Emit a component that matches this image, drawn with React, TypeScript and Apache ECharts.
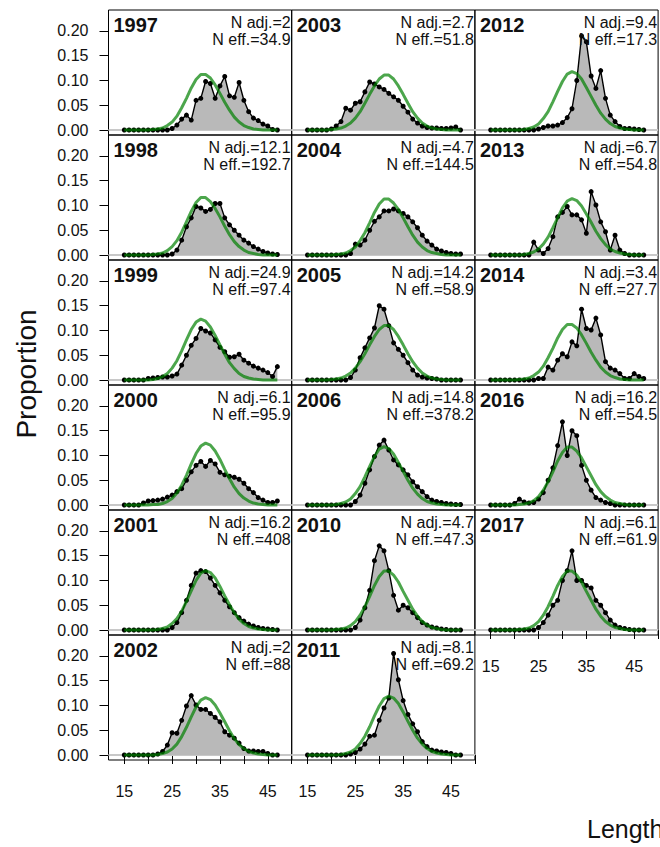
import React, { useEffect, useRef } from "react";
import * as echarts from "echarts";

// ---------- data ----------
const lengths = [15, 16, 17, 18, 19, 20, 21, 22, 23, 24, 25, 26, 27, 28, 29, 30, 31, 32, 33, 34, 35, 36, 37, 38, 39, 40, 41, 42, 43, 44, 45, 46, 47];

const obs1997 = [0, 0, 0, 0, 0, 0, 0, 0, 0, 0, 0.003, 0.010, 0.022, 0.030, 0.020, 0.060, 0.064, 0.098, 0.094, 0.064, 0.089, 0.108, 0.069, 0.066, 0.096, 0.060, 0.037, 0.024, 0.019, 0.012, 0.008, 0.001, 0];
const exp1997 = [0, 0, 0, 0, 0, 0, 0.001, 0.002, 0.004, 0.009, 0.016, 0.028, 0.045, 0.064, 0.085, 0.102, 0.112, 0.112, 0.105, 0.091, 0.074, 0.056, 0.040, 0.026, 0.016, 0.009, 0.005, 0.002, 0.001, 0, 0, 0, 0];

const obs1998 = [0, 0, 0, 0, 0, 0, 0, 0, 0, 0, 0.002, 0.010, 0.030, 0.057, 0.075, 0.098, 0.095, 0.088, 0.092, 0.104, 0.104, 0.075, 0.061, 0.050, 0.040, 0.030, 0.024, 0.017, 0.012, 0.007, 0.004, 0.002, 0.001];
const exp1998 = [0, 0, 0, 0, 0, 0, 0.001, 0.002, 0.004, 0.009, 0.017, 0.029, 0.046, 0.067, 0.088, 0.106, 0.116, 0.116, 0.108, 0.094, 0.077, 0.058, 0.041, 0.027, 0.017, 0.010, 0.005, 0.003, 0.001, 0, 0, 0, 0];

const obs1999 = [0, 0, 0, 0, 0, 0.003, 0.004, 0.005, 0.006, 0.006, 0.008, 0.012, 0.030, 0.050, 0.070, 0.084, 0.104, 0.099, 0.095, 0.081, 0.066, 0.057, 0.046, 0.047, 0.052, 0.040, 0.034, 0.028, 0.024, 0.020, 0.015, 0.007, 0.027];
const exp1999 = [0, 0, 0, 0, 0, 0, 0.001, 0.003, 0.007, 0.013, 0.024, 0.039, 0.059, 0.081, 0.102, 0.117, 0.123, 0.119, 0.107, 0.090, 0.071, 0.052, 0.035, 0.023, 0.013, 0.007, 0.004, 0.002, 0.001, 0, 0, 0, 0];

const obs2000 = [0, 0, 0, 0, 0.004, 0.008, 0.009, 0.010, 0.012, 0.016, 0.020, 0.027, 0.033, 0.050, 0.067, 0.080, 0.088, 0.078, 0.090, 0.083, 0.066, 0.061, 0.058, 0.056, 0.052, 0.044, 0.033, 0.025, 0.015, 0.010, 0.005, 0.005, 0.008];
const exp2000 = [0, 0, 0, 0, 0, 0, 0.001, 0.001, 0.003, 0.007, 0.013, 0.024, 0.040, 0.060, 0.083, 0.104, 0.119, 0.125, 0.121, 0.109, 0.092, 0.072, 0.053, 0.036, 0.023, 0.014, 0.008, 0.004, 0.002, 0.001, 0, 0, 0];

const obs2001 = [0, 0, 0, 0, 0, 0, 0, 0, 0, 0, 0.005, 0.015, 0.035, 0.060, 0.090, 0.115, 0.120, 0.118, 0.105, 0.090, 0.075, 0.060, 0.047, 0.035, 0.025, 0.018, 0.012, 0.008, 0.005, 0.003, 0.002, 0.001, 0];
const exp2001 = [0, 0, 0, 0, 0, 0, 0, 0.001, 0.003, 0.006, 0.013, 0.023, 0.038, 0.058, 0.079, 0.100, 0.115, 0.120, 0.116, 0.105, 0.088, 0.069, 0.051, 0.035, 0.022, 0.013, 0.007, 0.004, 0.002, 0.001, 0, 0, 0];

const obs2002 = [0, 0, 0, 0, 0, 0, 0, 0.002, 0.007, 0.020, 0.045, 0.044, 0.070, 0.099, 0.120, 0.101, 0.092, 0.092, 0.084, 0.076, 0.067, 0.047, 0.040, 0.034, 0.024, 0.013, 0.008, 0.008, 0.007, 0.007, 0.003, 0, 0];
const exp2002 = [0, 0, 0, 0, 0, 0, 0, 0.001, 0.003, 0.006, 0.012, 0.022, 0.037, 0.056, 0.077, 0.097, 0.111, 0.116, 0.112, 0.101, 0.085, 0.067, 0.049, 0.033, 0.021, 0.013, 0.007, 0.004, 0.002, 0.001, 0, 0, 0];

const obs2003 = [0, 0, 0, 0, 0, 0.002, 0.008, 0.017, 0.044, 0.040, 0.054, 0.057, 0.077, 0.097, 0.093, 0.087, 0.082, 0.074, 0.067, 0.060, 0.048, 0.036, 0.022, 0.014, 0.008, 0.005, 0.004, 0.004, 0.003, 0.003, 0.004, 0.006, 0];
const exp2003 = [0, 0, 0, 0, 0, 0.001, 0.002, 0.004, 0.008, 0.014, 0.024, 0.037, 0.054, 0.072, 0.089, 0.103, 0.111, 0.111, 0.103, 0.089, 0.072, 0.054, 0.037, 0.024, 0.014, 0.008, 0.004, 0.002, 0.001, 0, 0, 0, 0];

const obs2004 = [0, 0, 0, 0, 0, 0, 0, 0, 0, 0.003, 0.022, 0.020, 0.030, 0.050, 0.068, 0.077, 0.089, 0.089, 0.093, 0.089, 0.084, 0.077, 0.067, 0.055, 0.040, 0.028, 0.020, 0.012, 0.008, 0.005, 0.003, 0.002, 0.002];
const exp2004 = [0, 0, 0, 0, 0, 0, 0.001, 0.002, 0.004, 0.009, 0.016, 0.029, 0.045, 0.065, 0.086, 0.103, 0.113, 0.113, 0.105, 0.092, 0.075, 0.057, 0.040, 0.026, 0.016, 0.009, 0.005, 0.003, 0.001, 0, 0, 0, 0];

const obs2005 = [0, 0, 0, 0, 0, 0, 0, 0, 0, 0.005, 0.020, 0.045, 0.065, 0.085, 0.105, 0.150, 0.143, 0.110, 0.075, 0.062, 0.050, 0.035, 0.020, 0.010, 0.006, 0.004, 0.003, 0.002, 0, 0, 0, 0, 0];
const exp2005 = [0, 0, 0, 0, 0, 0.001, 0.002, 0.004, 0.008, 0.014, 0.024, 0.037, 0.053, 0.071, 0.088, 0.102, 0.110, 0.110, 0.102, 0.088, 0.071, 0.053, 0.037, 0.024, 0.014, 0.008, 0.004, 0.002, 0.001, 0, 0, 0, 0];

const obs2006 = [0, 0, 0, 0, 0, 0, 0, 0, 0, 0, 0.007, 0.020, 0.044, 0.071, 0.098, 0.121, 0.131, 0.111, 0.091, 0.081, 0.071, 0.061, 0.047, 0.037, 0.027, 0.017, 0.010, 0.007, 0.005, 0.003, 0.002, 0.001, 0.001];
const exp2006 = [0, 0, 0, 0, 0, 0, 0.001, 0.003, 0.006, 0.012, 0.023, 0.037, 0.057, 0.078, 0.098, 0.113, 0.118, 0.114, 0.103, 0.086, 0.068, 0.050, 0.034, 0.022, 0.013, 0.007, 0.004, 0.002, 0.001, 0, 0, 0, 0];

const obs2010 = [0, 0, 0, 0, 0, 0, 0, 0, 0, 0, 0.005, 0.020, 0.045, 0.080, 0.140, 0.170, 0.160, 0.120, 0.070, 0.040, 0.050, 0.045, 0.035, 0.025, 0.015, 0.010, 0.006, 0.004, 0.002, 0.001, 0, 0, 0];
const exp2010 = [0, 0, 0, 0, 0, 0, 0.001, 0.002, 0.004, 0.009, 0.017, 0.030, 0.047, 0.068, 0.090, 0.108, 0.119, 0.119, 0.111, 0.097, 0.078, 0.060, 0.042, 0.028, 0.017, 0.010, 0.005, 0.003, 0.001, 0, 0, 0, 0];

const obs2011 = [0, 0, 0, 0, 0, 0, 0, 0, 0, 0.002, 0.005, 0.012, 0.022, 0.038, 0.040, 0.070, 0.095, 0.115, 0.205, 0.152, 0.110, 0.082, 0.063, 0.047, 0.027, 0.017, 0.010, 0.008, 0.006, 0.005, 0.003, 0, 0];
const exp2011 = [0, 0, 0, 0, 0, 0, 0, 0.001, 0.003, 0.006, 0.012, 0.023, 0.038, 0.057, 0.079, 0.099, 0.114, 0.119, 0.115, 0.104, 0.087, 0.068, 0.050, 0.034, 0.022, 0.013, 0.007, 0.004, 0.002, 0.001, 0, 0, 0];

const obs2012 = [0, 0, 0, 0, 0, 0, 0, 0, 0, 0, 0.002, 0.005, 0.008, 0.008, 0.010, 0.015, 0.025, 0.043, 0.100, 0.190, 0.178, 0.109, 0.084, 0.120, 0.064, 0.030, 0.017, 0.007, 0.003, 0.003, 0.002, 0.001, 0];
const exp2012 = [0, 0, 0, 0, 0, 0, 0, 0.001, 0.003, 0.006, 0.012, 0.023, 0.037, 0.057, 0.078, 0.098, 0.113, 0.118, 0.114, 0.103, 0.086, 0.068, 0.050, 0.034, 0.022, 0.013, 0.007, 0.004, 0.002, 0.001, 0, 0, 0];

const obs2013 = [0, 0, 0, 0, 0, 0, 0, 0, 0, 0.026, 0.010, 0.003, 0.013, 0.037, 0.077, 0.086, 0.098, 0.081, 0.081, 0.071, 0.044, 0.128, 0.101, 0.067, 0.047, 0.010, 0.040, 0.010, 0.003, 0, 0, 0, 0];
const exp2013 = [0, 0, 0, 0, 0, 0, 0, 0.001, 0.003, 0.006, 0.012, 0.022, 0.036, 0.055, 0.075, 0.095, 0.109, 0.114, 0.110, 0.099, 0.083, 0.066, 0.048, 0.033, 0.021, 0.012, 0.007, 0.004, 0.002, 0.001, 0, 0, 0];

const obs2014 = [0, 0, 0, 0, 0, 0, 0, 0, 0, 0, 0.003, 0.003, 0.026, 0.020, 0.040, 0.053, 0.047, 0.077, 0.069, 0.143, 0.104, 0.101, 0.125, 0.091, 0.037, 0.024, 0.020, 0.013, 0.003, 0.003, 0.013, 0.007, 0.003];
const exp2014 = [0, 0, 0, 0, 0, 0, 0.001, 0.002, 0.004, 0.009, 0.016, 0.028, 0.045, 0.064, 0.085, 0.102, 0.112, 0.112, 0.105, 0.091, 0.074, 0.056, 0.040, 0.026, 0.016, 0.009, 0.005, 0.002, 0.001, 0, 0, 0, 0];

const obs2016 = [0, 0, 0, 0, 0, 0.003, 0.012, 0.006, 0.004, 0.005, 0.012, 0.025, 0.050, 0.075, 0.120, 0.168, 0.100, 0.150, 0.140, 0.080, 0.050, 0.030, 0.015, 0.010, 0.005, 0.003, 0, 0, 0, 0, 0, 0, 0];
const exp2016 = [0, 0, 0, 0, 0, 0, 0.001, 0.002, 0.004, 0.009, 0.017, 0.030, 0.047, 0.067, 0.089, 0.106, 0.117, 0.117, 0.109, 0.095, 0.077, 0.059, 0.041, 0.027, 0.017, 0.010, 0.005, 0.003, 0.001, 0, 0, 0, 0];

const obs2017 = [0, 0, 0, 0, 0, 0, 0, 0, 0, 0, 0.005, 0.015, 0.030, 0.050, 0.060, 0.100, 0.120, 0.160, 0.100, 0.100, 0.090, 0.085, 0.060, 0.050, 0.035, 0.020, 0.010, 0.005, 0.003, 0.001, 0, 0, 0];
const exp2017 = [0, 0, 0, 0, 0, 0, 0.001, 0.002, 0.004, 0.009, 0.017, 0.030, 0.047, 0.068, 0.090, 0.108, 0.119, 0.119, 0.111, 0.097, 0.078, 0.060, 0.042, 0.028, 0.017, 0.010, 0.005, 0.003, 0.001, 0, 0, 0, 0];

// panel order: column by column
const years = ["1997", "1998", "1999", "2000", "2001", "2002", "2003", "2004", "2005", "2006", "2010", "2011", "2012", "2013", "2014", "2016", "2017"];
const nAdj = ["2", "12.1", "24.9", "6.1", "16.2", "2", "2.7", "4.7", "14.2", "14.8", "4.7", "8.1", "9.4", "6.7", "3.4", "16.2", "6.1"];
const nEff = ["34.9", "192.7", "97.4", "95.9", "408", "88", "51.8", "144.5", "58.9", "378.2", "47.3", "69.2", "17.3", "54.8", "27.7", "54.5", "61.9"];
const observed = [obs1997, obs1998, obs1999, obs2000, obs2001, obs2002, obs2003, obs2004, obs2005, obs2006, obs2010, obs2011, obs2012, obs2013, obs2014, obs2016, obs2017];
const expected = [exp1997, exp1998, exp1999, exp2000, exp2001, exp2002, exp2003, exp2004, exp2005, exp2006, exp2010, exp2011, exp2012, exp2013, exp2014, exp2016, exp2017];

const yTicks = [0, 0.05, 0.1, 0.15, 0.2];
const xTicks = [15, 20, 25, 30, 35, 40, 45, 50];
const xLabels = [15, 25, 35, 45];
const panelsPerColumn = [6, 6, 5];

// ---------- layout ----------
const FONT = '"Liberation Sans", Arial, Helvetica, sans-serif';
const COL_LEFT = [108.5, 291.7, 474.9];
const PANEL_W = 183.2;
const PANEL_H = 125;
const TOP0 = 10;
const X_MIN = 11.7;
const X_MAX = 50;
const Y_MIN = -0.0101;
const Y_MAX = 0.2424;

export default function App() {
  const ref = useRef<HTMLDivElement>(null);

  useEffect(() => {
    if (!ref.current) return;
    const chart = echarts.init(ref.current, null, { renderer: "svg" });

    const grid: any[] = [];
    const xAxis: any[] = [];
    const yAxis: any[] = [];
    const series: any[] = [];
    const graphic: any[] = [];

    let idx = 0;
    panelsPerColumn.forEach((count, col) => {
      for (let row = 0; row < count; row++) {
        const i = idx++;
        const left = COL_LEFT[col];
        const top = TOP0 + row * PANEL_H;
        const isBottom = row === count - 1;
        const isLeft = col === 0;

        grid.push({
          left,
          top,
          width: PANEL_W,
          height: PANEL_H,
          show: true,
          borderColor: "#000",
          borderWidth: 1,
          backgroundColor: "transparent",
          containLabel: false,
          outerBoundsMode: "none",
        });

        xAxis.push({
          gridIndex: i,
          type: "value",
          min: X_MIN,
          max: X_MAX,
          axisLine: { show: false },
          splitLine: { show: false },
          axisTick: {
            show: isBottom,
            customValues: xTicks,
            length: 9,
            lineStyle: { color: "#000", width: 1 },
          },
          axisLabel: {
            show: isBottom,
            customValues: xLabels,
            fontSize: 16,
            fontFamily: FONT,
            color: "#111",
            margin: 23,
          },
        });

        yAxis.push({
          gridIndex: i,
          type: "value",
          min: Y_MIN,
          max: Y_MAX,
          axisLine: { show: false },
          splitLine: { show: false },
          axisTick: {
            show: isLeft,
            customValues: yTicks,
            length: 9,
            lineStyle: { color: "#000", width: 1 },
          },
          axisLabel: {
            show: isLeft,
            customValues: yTicks,
            fontSize: 16,
            fontFamily: FONT,
            color: "#111",
            margin: 20,
            formatter: (v: number) => v.toFixed(2),
          },
        });

        series.push({
          type: "line",
          xAxisIndex: i,
          yAxisIndex: i,
          z: 6,
          data: lengths.map((L, k) => [L, observed[i][k]]),
          symbol: "circle",
          symbolSize: 5,
          showSymbol: true,
          itemStyle: { color: "#000" },
          lineStyle: { color: "#000", width: 1.4 },
          areaStyle: { color: "#b9b9b9", opacity: 1 },
          markLine: {
            silent: true,
            symbol: ["none", "none"],
            z: 3,
            label: { show: false },
            lineStyle: { color: "#c8c8c8", width: 2, type: "solid" },
            data: [{ yAxis: 0 }],
          },
        });

        series.push({
          type: "line",
          xAxisIndex: i,
          yAxisIndex: i,
          z: 7,
          data: lengths.map((L, k) => [L, expected[i][k]]),
          symbol: "none",
          lineStyle: { color: "rgba(0,128,0,0.7)", width: 3 },
        });

        graphic.push({
          type: "text",
          x: left + 5,
          y: top + 14.5,
          style: {
            text: years[i],
            font: `bold 20px ${FONT}`,
            fill: "#111",
            align: "left",
            verticalAlign: "middle",
          },
          z: 10,
        });
        graphic.push({
          type: "text",
          x: left + PANEL_W - 1,
          y: top + 12.3,
          style: {
            text: `N adj.=${nAdj[i]}`,
            font: `16px ${FONT}`,
            fill: "#111",
            align: "right",
            verticalAlign: "middle",
          },
          z: 10,
        });
        graphic.push({
          type: "text",
          x: left + PANEL_W - 1,
          y: top + 29.5,
          style: {
            text: `N eff.=${nEff[i]}`,
            font: `16px ${FONT}`,
            fill: "#111",
            align: "right",
            verticalAlign: "middle",
          },
          z: 10,
        });
      }
    });

    graphic.push({
      type: "text",
      x: 26,
      y: 374,
      rotation: Math.PI / 2,
      style: {
        text: "Proportion",
        font: `28px ${FONT}`,
        fill: "#111",
        align: "center",
        verticalAlign: "middle",
      },
    });
    graphic.push({
      type: "text",
      x: 587,
      y: 829,
      style: {
        text: "Length (cm)",
        font: `25px ${FONT}`,
        fill: "#111",
        align: "left",
        verticalAlign: "middle",
      },
    });

    chart.setOption({
      animation: false,
      backgroundColor: "#fff",
      grid,
      xAxis,
      yAxis,
      series,
      graphic,
    });

    return () => chart.dispose();
  }, []);

  return (
    <div
      ref={ref}
      style={{ position: "absolute", left: 0, top: 0, width: 660, height: 847 }}
    />
  );
}
